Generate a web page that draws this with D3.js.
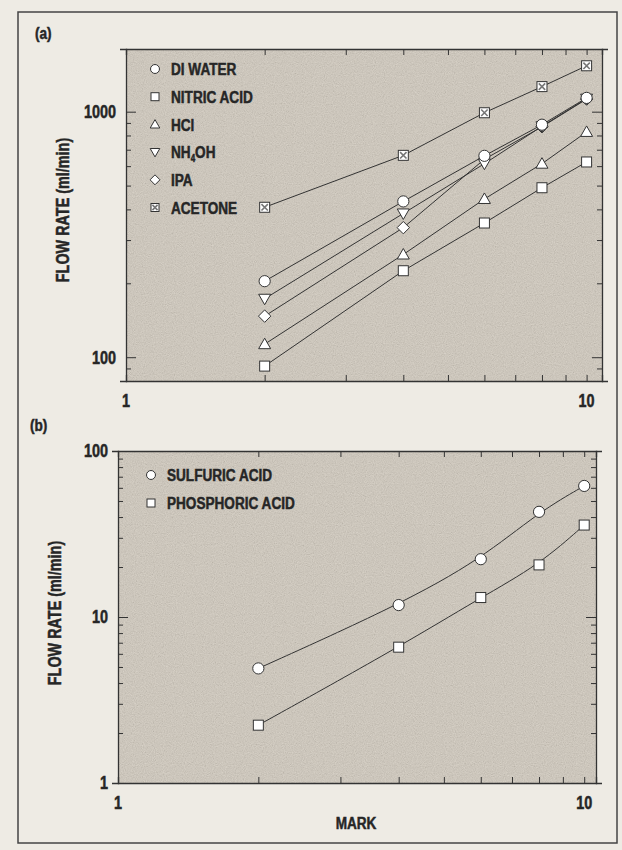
<!DOCTYPE html>
<html>
<head>
<meta charset="utf-8">
<script src="https://cdn.jsdelivr.net/npm/d3@7"></script>
<style>
  body { margin: 0; background: #eeebe4; }
  svg { display: block; }
  text { font-family: "Liberation Sans", Arial, sans-serif; font-weight: bold; fill: #262626;
         stroke: #262626; stroke-width: 0.5px; }
</style>
</head>
<body>
<svg id="chart" width="622" height="850"></svg>
<script>
// flow rate vs. mark
const marks = [2, 4, 6, 8, 10];

// panel (a)
const diWater = [204, 431, 661, 885, 1138];
const nitricAcid = [92, 225, 352, 490, 624];
const hcl = [113, 262, 441, 614, 827];
const nh4oh = [173, 385, 614, 872, 1130];
const ipa = [147, 337, 640, 868, 1125];
const acetone = [408, 664, 990, 1265, 1538];

// panel (b)
const sulfuricAcid = [4.9, 11.8, 22.3, 43, 61.6];
const phosphoricAcid = [2.23, 6.58, 13.1, 20.6, 35.8];

const yTicksA = [100, 1000];
const yTicksB = [1, 10, 100];
const xTickLabels = [1, 10];

const seriesA = [
  { name: "DI WATER", values: diWater, sym: "circle" },
  { name: "NITRIC ACID", values: nitricAcid, sym: "square" },
  { name: "HCl", values: hcl, sym: "triangle" },
  { name: "NH4OH", values: nh4oh, sym: "triangleDown" },
  { name: "IPA", values: ipa, sym: "diamond" },
  { name: "ACETONE", values: acetone, sym: "xsquare" }
];
const seriesB = [
  { name: "SULFURIC ACID", values: sulfuricAcid, sym: "circle" },
  { name: "PHOSPHORIC ACID", values: phosphoricAcid, sym: "square" }
];

const svg = d3.select("#chart");
const ink = "#333";
const squeeze = 0.8; // condensed look

// narrow bold text: squeeze horizontally around the anchor point
function txt(g, x, y, str, size, anchor, rot) {
  return g.append("text")
      .attr("transform", `translate(${x},${y})${rot ? ` rotate(${rot})` : ""} scale(${squeeze},1)`)
      .attr("text-anchor", anchor || "start").attr("dy", "0.36em")
      .style("font-size", size + "px").text(str);
}

// speckled fill for the plot areas
const defs = svg.append("defs");
const f = defs.append("filter").attr("id", "speckle")
    .attr("x", 0).attr("y", 0).attr("width", 1).attr("height", 1);
f.append("feTurbulence").attr("type", "fractalNoise")
    .attr("baseFrequency", 0.9).attr("numOctaves", 2).attr("seed", 4);
f.append("feColorMatrix").attr("type", "matrix")
    .attr("values", "0.33 0.33 0.33 0 0  0.33 0.33 0.33 0 0  0.33 0.33 0.33 0 0  0 0 0 0 0.32");

// outer frame
svg.append("rect")
    .attr("x", 18).attr("y", 12).attr("width", 599).attr("height", 831)
    .attr("fill", "none").attr("stroke", "#444").attr("stroke-width", 1.5);

function symbol(g, type, cx, cy, s) {
  const sel = g.append("g").attr("transform", `translate(${cx},${cy})`);
  let el;
  if (type === "circle") el = sel.append("circle").attr("r", s * 0.56);
  else if (type === "square" || type === "xsquare") el = sel.append("rect")
      .attr("x", -s / 2).attr("y", -s / 2).attr("width", s).attr("height", s);
  else if (type === "triangle") el = sel.append("path")
      .attr("d", `M0,${-s * 0.6}L${s * 0.6},${s * 0.45}L${-s * 0.6},${s * 0.45}Z`);
  else if (type === "triangleDown") el = sel.append("path")
      .attr("d", `M0,${s * 0.6}L${s * 0.6},${-s * 0.45}L${-s * 0.6},${-s * 0.45}Z`);
  else if (type === "diamond") el = sel.append("path")
      .attr("d", `M0,${-s * 0.62}L${s * 0.62},0L0,${s * 0.62}L${-s * 0.62},0Z`);
  el.attr("fill", "#fff").attr("stroke", ink).attr("stroke-width", 1);
  if (type === "xsquare") {
    const h = s * 0.32;
    sel.append("path").attr("d", `M${-h},${-h}L${h},${h}M${h},${-h}L${-h},${h}`)
        .attr("stroke", "#777").attr("stroke-width", 1.6);
  }
}

function panel(opt) {
  const { left, right, top, bottom, yDomain, xMax, series, yTicks, curve, legend, label, titleY } = opt;
  const x = d3.scaleLog().domain([1, xMax]).range([left, right]);
  const y = d3.scaleLog().domain(yDomain).range([bottom, top]);
  const g = svg.append("g");

  g.append("rect").attr("x", left).attr("y", top)
      .attr("width", right - left).attr("height", bottom - top).attr("fill", "#d4cbbc");
  g.append("rect").attr("x", left).attr("y", top)
      .attr("width", right - left).attr("height", bottom - top).attr("filter", "url(#speckle)");

  // ticks on all four sides, pointing in
  const xt = d3.range(2, 11);
  const yMinor = y.ticks().filter(v => v >= yDomain[0] && v <= yDomain[1]);
  const tickLen = major => major ? 10 : 5;
  const isMajorY = v => yTicks.includes(v);

  const axB = g.append("g").attr("transform", `translate(0,${bottom})`)
      .call(d3.axisBottom(x).tickValues(xt).tickSize(-6).tickFormat(""));
  const axT = g.append("g").attr("transform", `translate(0,${top})`)
      .call(d3.axisTop(x).tickValues(xt).tickSize(-6).tickFormat(""));
  const axL = g.append("g").attr("transform", `translate(${left},0)`)
      .call(d3.axisLeft(y).tickValues(yMinor).tickFormat(""));
  axL.selectAll(".tick line").attr("x2", d => tickLen(isMajorY(d)));
  const axR = g.append("g").attr("transform", `translate(${right},0)`)
      .call(d3.axisRight(y).tickValues(yMinor).tickFormat(""));
  axR.selectAll(".tick line").attr("x2", d => -tickLen(isMajorY(d)));
  [axB, axT, axL, axR].forEach(a => {
    a.select(".domain").attr("stroke", ink).attr("stroke-width", 1.3);
    a.selectAll(".tick line").attr("stroke", ink);
  });

  // tick labels
  yTicks.forEach(v => txt(g, left - 10, y(v), v, 18, "end"));
  xTickLabels.forEach(v => txt(g, x(v), bottom + 20, v, 18, "middle"));

  // y title
  txt(g, left - 63, titleY, "FLOW RATE (ml/min)", 18, "middle", -90);

  // panel letter
  txt(g, label.x, label.y, label.t, 17);

  // lines
  const line = d3.line().x((d, i) => x(marks[i])).y(d => y(d)).curve(curve);
  series.forEach(s => {
    g.append("path").attr("d", line(s.values))
        .attr("fill", "none").attr("stroke", ink).attr("stroke-width", 1);
  });
  // markers
  const order = opt.drawOrder || series.map((s, i) => i);
  order.forEach(i => {
    const s = series[i];
    s.values.forEach((v, j) => symbol(g, s.sym, x(marks[j]), y(v), 10));
  });

  // legend
  series.forEach((s, i) => {
    const ly = legend.y + i * legend.step;
    symbol(g, s.sym, legend.x, ly, 8);
    if (s.name === "NH4OH") {
      const t = txt(g, legend.x + 16, ly, "", 17);
      t.append("tspan").text("NH");
      t.append("tspan").text("4").style("font-size", "10px").attr("dy", 4);
      t.append("tspan").text("OH").attr("dy", -4);
    } else {
      txt(g, legend.x + 16, ly, s.name, 17);
    }
  });
}

panel({
  left: 126, right: 602, top: 49, bottom: 381,
  yDomain: [80, 1800], xMax: 10.8, series: seriesA, yTicks: yTicksA,
  curve: d3.curveLinear,
  legend: { x: 155, y: 69, step: 27.7 },
  label: { x: 35, y: 33, t: "(a)" }, titleY: 210,
  drawOrder: [1, 2, 4, 3, 0, 5]
});

panel({
  left: 118, right: 596, top: 451, bottom: 783,
  yDomain: [1, 100], xMax: 10.6, series: seriesB, yTicks: yTicksB,
  curve: d3.curveBasis,
  legend: { x: 151, y: 475, step: 28 },
  label: { x: 30, y: 425, t: "(b)" }, titleY: 613
});

txt(svg, 356, 823, "MARK", 17, "middle");
</script>
</body>
</html>
